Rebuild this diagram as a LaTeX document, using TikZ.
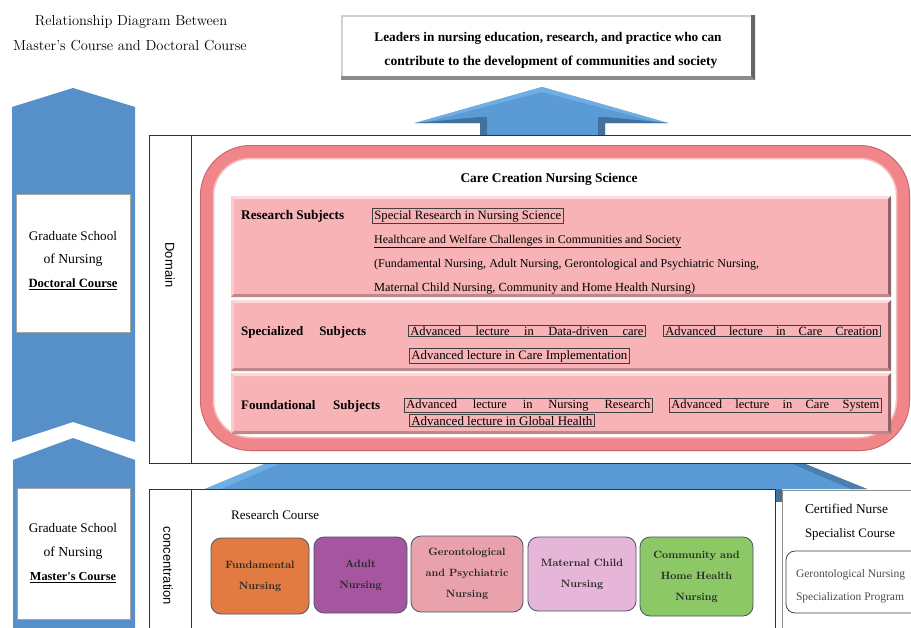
\documentclass[tikz,border=0pt]{standalone}
\usepackage{fontspec}
\usepackage{graphicx}
\newfontfamily\sansA{Liberation Sans}
\newfontfamily\gar{Liberation Serif}
\newcommand{\fw}[2]{\resizebox{#1pt}{!}{#2}}
\newcommand{\rgf}{\gar\fontsize{12.5}{15}\selectfont}
\newcommand{\bdf}{\gar\fontsize{13}{15}\selectfont\bfseries}
\definecolor{arrowblue}{HTML}{5B9BD5}
\definecolor{arrowdark}{HTML}{41719C}
\definecolor{arrowlight}{HTML}{6FAEE4}
\definecolor{leftblue}{HTML}{5790C8}
\definecolor{framepink}{HTML}{F0868A}
\definecolor{framedark}{HTML}{C9676B}
\definecolor{framelight}{HTML}{F8BEC0}
\definecolor{subjpink}{HTML}{F7B3B6}
\definecolor{subjlight}{HTML}{FCDADB}
\definecolor{subjdark}{HTML}{8E6466}
\definecolor{cline}{HTML}{44546A}
\definecolor{cOrange}{HTML}{E27B41}
\definecolor{cPurple}{HTML}{A5569F}
\definecolor{cGeronto}{HTML}{E9A1AC}
\definecolor{cMaternal}{HTML}{E5B6D7}
\definecolor{cGreen}{HTML}{8CC865}
\definecolor{boxline}{HTML}{404040}
\newcommand{\bevelbox}[4]{%
 \fill[subjpink] (#1,#2) rectangle (#3,#4);
 \fill[subjlight] (#1,#2) -- (#3,#2) -- ({#3-3},{#2+3}) -- ({#1+3},{#2+3}) -- cycle;
 \fill[subjlight!60!subjpink] (#1,#2) -- ({#1+3},{#2+3}) -- ({#1+3},{#4-3}) -- (#1,#4) -- cycle;
 \fill[subjdark] (#3,#2) -- (#3,#4) -- ({#3-3},{#4-3}) -- ({#3-3},{#2+3}) -- cycle;
 \fill[subjdark!55!subjpink] (#1,#4) -- (#3,#4) -- ({#3-3},{#4-3}) -- ({#1+3},{#4-3}) -- cycle;
}
\tikzset{
 frame/.style={draw=black!80, line width=1pt},
 plain/.style={inner sep=0pt},
 sbox/.style={draw=boxline, line width=0.7pt, anchor=base west, inner xsep=2pt, inner ysep=1.4pt},
 cbox/.style={draw=cline, line width=0.8pt, rounded corners=10pt, align=center, inner sep=0pt,
   font=\fontsize{10.6}{21}\selectfont\bfseries, text=black!85},
 vlabel/.style={rotate=-90, inner sep=0pt, font=\sansA\fontsize{13}{15}\selectfont}
}
\begin{document}
\begin{tikzpicture}[x=1pt,y=-1pt]
\useasboundingbox (0,0) rectangle (911,627);
\clip (0,0) rectangle (911,627);
\fill[white] (0,0) rectangle (911,627);

% title
\node[anchor=base, plain] (title1) at (131,25) {\fontsize{14.5}{17}\selectfont Relationship Diagram Between};
\node[anchor=base, plain] (title2) at (130,50) {\fontsize{14.5}{17}\selectfont Master's Course and Doctoral Course};

% top box
\fill[black!45] (341,15) rectangle (755,80);
\fill[black!18] (341,15) rectangle (751,76);
\fill[white] (343,17) rectangle (751,76);
\fill[black!60] (751,15) -- (755,15) -- (755,80) -- (751,76) -- cycle;
\node[anchor=base, plain] (lead1) at (548,41) {\fw{347}{\gar\bfseries Leaders in nursing education, research, and practice who can}};
\node[anchor=base, plain] (lead2) at (551,65) {\fw{333}{\gar\bfseries contribute to the development of communities and society}};

% top arrow
\fill[arrowblue] (480,140) -- (480,123) -- (415,123) -- (542,87) -- (668,123) -- (605,123) -- (605,140) -- cycle;
\fill[arrowlight] (415,123) -- (542,87) -- (668,123) -- (652,121) -- (542,92) -- (431,121) -- cycle;
\fill[arrowdark] (415,123) -- (480,117) -- (487,117) -- (487,140) -- (480,140) -- (480,123) -- cycle;
\fill[arrowdark] (668,123) -- (605,117) -- (598,117) -- (598,140) -- (605,140) -- (605,123) -- cycle;

% left arrows
\fill[leftblue] (12,107) -- (73,88) -- (135,107) -- (135,442) -- (73,422) -- (12,442) -- cycle;
\fill[leftblue] (13,460) -- (73,438) -- (135,460) -- (135,640) -- (13,640) -- cycle;
\node[fill=white, draw=black!35, line width=0.5pt, minimum width=114, minimum height=138, inner sep=0] (docbox) at (73,263) {};
\node[fill=white, draw=black!35, line width=0.5pt, minimum width=113, minimum height=131, inner sep=0] (masbox) at (73.5,553.5) {};
\node[anchor=base, plain] (doc1) at (73,240) {\fw{88}{\gar Graduate School}};
\node[anchor=base, plain] (doc2) at (73,263) {\fw{59}{\gar of Nursing}};
\node[anchor=base, plain] (doc3) at (73,287) {\fw{89}{\gar\bfseries\underline{Doctoral Course}}};
\node[anchor=base, plain] (mas1) at (73,532) {\fw{88}{\gar Graduate School}};
\node[anchor=base, plain] (mas2) at (73,556) {\fw{59}{\gar of Nursing}};
\node[anchor=base, plain] (mas3) at (73,580) {\fw{86}{\gar\bfseries\underline{Master's Course}}};

% middle arrow
\fill[arrowblue] (205,489) -- (267,463) -- (803,463) -- (867,489) -- cycle;
\fill[arrowlight] (205,489) -- (267,463) -- (281,463) -- (221,489) -- cycle;
\fill[arrowdark!70!arrowblue] (867,489) -- (803,463) -- (790,463) -- (851,489) -- cycle;
\fill[arrowdark] (775,489) rectangle (782,502);

% domain box
\draw[frame, fill=white] (149,135) rectangle (920,463);
\draw[frame] (191,135) -- (191,463);
\node[vlabel] (domain) at (170,265) {Domain};

% pink frame
\draw[line width=13.5pt, framepink, rounded corners=44pt] (206.75,151.75) rectangle (903.25,444.25);
\draw[line width=0.8pt, framedark, rounded corners=50.5pt] (200.4,145.4) rectangle (909.6,450.6);
\draw[line width=1.5pt, framelight, rounded corners=37pt] (213.5,158.5) rectangle (896.5,437.5);
\node[anchor=base, plain] (ccns) at (549,182) {\fw{177}{\gar\bfseries Care Creation Nursing Science}};

% subject boxes
\bevelbox{231}{196}{891}{297}
\bevelbox{231}{300}{891}{371}
\bevelbox{231}{373}{891}{434}

\node[anchor=base west, plain] (rs) at (241,219) {\fw{103}{\gar\bfseries Research Subjects}};
\node[sbox] (sr) at (372,219) {\fw{187}{\gar Special Research in Nursing Science}};
\node[anchor=base west, plain] (hw) at (374,243) {\fw{307}{\gar\underline{Healthcare and Welfare Challenges in Communities and Society}}};
\node[anchor=base west, plain] (fl1) at (374,267) {\fw{385}{\gar (Fundamental Nursing, Adult Nursing, Gerontological and Psychiatric Nursing,}};
\node[anchor=base west, plain] (fl2) at (374,291) {\fw{321}{\gar Maternal Child Nursing, Community and Home Health Nursing)}};

\node[anchor=base west, plain] (ss) at (241,335) {\bdf\makebox[125pt][s]{Specialized Subjects}};
\node[sbox] (s1) at (408,335) {\rgf\makebox[233pt][s]{Advanced lecture in Data-driven care}};
\node[sbox] (s2) at (663,335) {\rgf\makebox[213pt][s]{Advanced lecture in Care Creation}};
\node[sbox] (s3) at (409,359) {\fw{216}{\gar Advanced lecture in Care Implementation}};

\node[anchor=base west, plain] (fs) at (241,409) {\bdf\makebox[139pt][s]{Foundational Subjects}};
\node[sbox] (f1) at (404,408) {\rgf\makebox[244pt][s]{Advanced lecture in Nursing Research}};
\node[sbox] (f2) at (669,408) {\rgf\makebox[208pt][s]{Advanced lecture in Care System}};
\node[sbox] (f3) at (409,425) {\fw{181}{\gar Advanced lecture in Global Health}};

% concentration box
\draw[frame, fill=white] (149,489) rectangle (775,640);
\draw[frame] (191,489) -- (191,640);
\node[vlabel] (conc) at (168,566) {concentration};
\node[anchor=base west, plain] (rc) at (231,519) {\fw{88}{\gar Research Course}};

\node[cbox, fill=cOrange, minimum width=98, minimum height=76] (fund) at (260,576) {Fundamental\\Nursing};
\node[cbox, fill=cPurple, minimum width=93, minimum height=76] (adult) at (360.5,575) {Adult\\Nursing};
\node[cbox, fill=cGeronto, minimum width=112, minimum height=76] (ger) at (467,574) {Gerontological\\and Psychiatric\\Nursing};
\node[cbox, fill=cMaternal, minimum width=108, minimum height=74] (mat) at (582,574) {Maternal Child\\Nursing};
\node[cbox, fill=cGreen, minimum width=113, minimum height=79] (comm) at (696.5,576.5) {Community and\\Home Health\\Nursing};

% CNS box
\draw[draw=black!45, line width=1pt, fill=white] (782,490) rectangle (920,640);
\node[anchor=base, plain] (cn1) at (846.5,513) {\fw{83}{\gar Certified Nurse}};
\node[anchor=base, plain] (cn2) at (850,537) {\fw{90}{\gar Specialist Course}};
\draw[draw=black!75, line width=0.8pt, rounded corners=9pt] (786,551) rectangle (925,613);
\node[anchor=base, plain, text=black!70] (gn1) at (850.5,577) {\fw{109}{\gar Gerontological Nursing}};
\node[anchor=base, plain, text=black!70] (gn2) at (850,600) {\fw{108}{\gar Specialization Program}};
\end{tikzpicture}
\end{document}
